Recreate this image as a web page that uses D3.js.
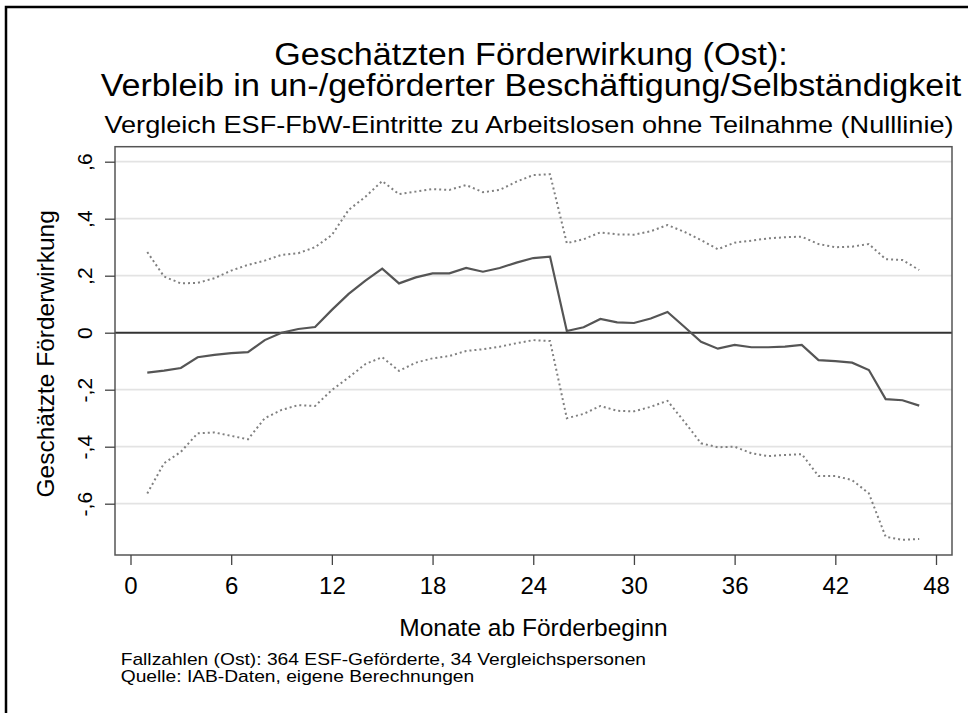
<!DOCTYPE html>
<html>
<head>
<meta charset="utf-8">
<script src="https://cdn.jsdelivr.net/npm/d3@7"></script>
<style>
  body { margin: 0; background: #fff; }
  text { font-family: "Liberation Sans", Arial, sans-serif; fill: #000; }
</style>
</head>
<body>
<div id="chart"></div>
<script>
const width = 968,
  height = 713;
const plot = { left: 115, right: 952, top: 146.7, bottom: 555 };

// Monate ab Förderbeginn
const months = [1, 2, 3, 4, 5, 6, 7, 8, 9, 10, 11, 12, 13, 14, 15, 16, 17, 18, 19, 20,
  21, 22, 23, 24, 25, 26, 27, 28, 29, 30, 31, 32, 33, 34, 35, 36, 37, 38, 39, 40,
  41, 42, 43, 44, 45, 46, 47];
// geschätzte Förderwirkung
const effect = [-0.140, -0.133, -0.124, -0.086, -0.078, -0.072, -0.068, -0.026, 0.000, 0.013,
  0.020, 0.080, 0.136, 0.183, 0.225, 0.173, 0.194, 0.208, 0.208, 0.227,
  0.214, 0.227, 0.246, 0.262, 0.267, 0.006, 0.019, 0.048, 0.036, 0.034,
  0.050, 0.073, 0.021, -0.032, -0.056, -0.043, -0.051, -0.051, -0.049, -0.043,
  -0.096, -0.100, -0.105, -0.131, -0.233, -0.237, -0.256];
// obere Grenze Konfidenzband
const upper = [0.283, 0.197, 0.173, 0.175, 0.191, 0.218, 0.238, 0.253, 0.273, 0.279,
  0.300, 0.343, 0.431, 0.477, 0.532, 0.486, 0.495, 0.504, 0.501, 0.518,
  0.493, 0.501, 0.530, 0.553, 0.556, 0.314, 0.328, 0.352, 0.345, 0.344,
  0.356, 0.378, 0.354, 0.325, 0.293, 0.316, 0.323, 0.331, 0.335, 0.337,
  0.311, 0.300, 0.302, 0.311, 0.258, 0.255, 0.220];
// untere Grenze Konfidenzband
const lower = [-0.564, -0.458, -0.418, -0.353, -0.350, -0.362, -0.374, -0.300, -0.271, -0.254,
  -0.257, -0.201, -0.157, -0.110, -0.086, -0.134, -0.105, -0.090, -0.082, -0.064,
  -0.058, -0.049, -0.037, -0.026, -0.029, -0.300, -0.285, -0.257, -0.274, -0.276,
  -0.260, -0.239, -0.312, -0.388, -0.402, -0.400, -0.423, -0.433, -0.429, -0.426,
  -0.503, -0.503, -0.517, -0.564, -0.716, -0.727, -0.724];

const xTicks = [0, 6, 12, 18, 24, 30, 36, 42, 48];
const yTicks = [-0.6, -0.4, -0.2, 0, 0.2, 0.4, 0.6];
const yTickLabels = ["-,6", "-,4", "-,2", "0", ",2", ",4", ",6"];

const titleLines = ["Geschätzten Förderwirkung (Ost):",
  "Verbleib in un-/geförderter Beschäftigung/Selbständigkeit"];
const subtitle = "Vergleich ESF-FbW-Eintritte zu Arbeitslosen ohne Teilnahme (Nulllinie)";
const notes = ["Fallzahlen (Ost): 364 ESF-Geförderte, 34 Vergleichspersonen",
  "Quelle: IAB-Daten, eigene Berechnungen"];

const x = d3.scaleLinear().domain([0, 48]).range([130.5, 936]);
const y = d3.scaleLinear().domain([-0.6, 0.6]).range([503.7, 161.7]);

const svg = d3
  .select("#chart")
  .append("svg")
  .attr("width", width)
  .attr("height", height);

// stretch text horizontally (the original text is wider than Arial)
function stretch(sel, factor) {
  sel.each(function () {
    const len = this.getComputedTextLength();
    d3.select(this)
      .attr("textLength", len * factor)
      .attr("lengthAdjust", "spacingAndGlyphs");
  });
}

// äußerer Rahmen
svg.append("rect")
  .attr("x", 6).attr("y", 7)
  .attr("width", 1200).attr("height", 1200)
  .attr("fill", "none")
  .attr("stroke", "#000")
  .attr("stroke-width", 2.5);

// Gitterlinien
svg.selectAll(".grid")
  .data(yTicks.filter((d) => d !== 0))
  .enter()
  .append("line")
  .attr("class", "grid")
  .attr("x1", plot.left).attr("x2", plot.right)
  .attr("y1", (d) => y(d)).attr("y2", (d) => y(d))
  .attr("stroke", "#e3e3e3")
  .attr("stroke-width", 1.8);

// Nulllinie
svg.append("line")
  .attr("x1", plot.left).attr("x2", plot.right)
  .attr("y1", y(0)).attr("y2", y(0))
  .attr("stroke", "#333")
  .attr("stroke-width", 2);

const series = months.map((m, i) => ({ m, e: effect[i], u: upper[i], l: lower[i] }));

const line = (key) => d3.line().x((d) => x(d.m)).y((d) => y(d[key]));

svg.append("path")
  .datum(series)
  .attr("d", line("u"))
  .attr("fill", "none")
  .attr("stroke", "#808080")
  .attr("stroke-width", 2)
  .attr("stroke-dasharray", "2,3");

svg.append("path")
  .datum(series)
  .attr("d", line("l"))
  .attr("fill", "none")
  .attr("stroke", "#808080")
  .attr("stroke-width", 2)
  .attr("stroke-dasharray", "2,3");

svg.append("path")
  .datum(series)
  .attr("d", line("e"))
  .attr("fill", "none")
  .attr("stroke", "#555")
  .attr("stroke-width", 2.2);

// Plotrahmen
svg.append("rect")
  .attr("x", plot.left).attr("y", plot.top)
  .attr("width", plot.right - plot.left)
  .attr("height", plot.bottom - plot.top)
  .attr("fill", "none")
  .attr("stroke", "#555")
  .attr("stroke-width", 1.5);

// x-Achse
const xAxis = svg.append("g")
  .attr("transform", `translate(0,${plot.bottom})`)
  .call(d3.axisBottom(x).tickValues(xTicks).tickSize(10).tickFormat(d3.format("d")));
xAxis.select(".domain").remove();
xAxis.selectAll(".tick line").attr("stroke", "#444").attr("stroke-width", 1.3);
xAxis.selectAll(".tick text")
  .attr("font-size", 24)
  .attr("dy", 0)
  .attr("y", 39)
  .attr("font-family", "Liberation Sans, Arial, sans-serif")
  .attr("fill", "#000");

// y-Achse
const yAxis = svg.append("g")
  .attr("transform", `translate(${plot.left},0)`)
  .call(d3.axisLeft(y).tickValues(yTicks).tickSize(10)
    .tickFormat((d, i) => yTickLabels[i]));
yAxis.select(".domain").remove();
yAxis.selectAll(".tick line").attr("stroke", "#444").attr("stroke-width", 1.3);
yAxis.selectAll(".tick text")
  .attr("font-size", 21)
  .attr("font-family", "Liberation Sans, Arial, sans-serif")
  .attr("fill", "#000")
  .attr("text-anchor", "middle")
  .attr("x", 0)
  .attr("dy", 0)
  .attr("y", -23)
  .attr("transform", "rotate(-90)");

// Achsentitel
svg.append("text")
  .attr("x", (plot.left + plot.right) / 2)
  .attr("y", 635.7)
  .attr("text-anchor", "middle")
  .attr("font-size", 24.5)
  .text("Monate ab Förderbeginn");

svg.append("text")
  .attr("transform", `translate(54,${(plot.top + plot.bottom) / 2 + 3}) rotate(-90)`)
  .attr("text-anchor", "middle")
  .attr("font-size", 24.5)
  .text("Geschätzte Förderwirkung");

// Titel
svg.selectAll(".title")
  .data(titleLines)
  .enter()
  .append("text")
  .attr("class", "title")
  .attr("x", 531)
  .attr("y", (d, i) => 65 + i * 31)
  .attr("text-anchor", "middle")
  .attr("font-size", 31)
  .text((d) => d)
  .call(stretch, 1.1);

svg.append("text")
  .attr("x", 529)
  .attr("y", 133.3)
  .attr("text-anchor", "middle")
  .attr("font-size", 24)
  .text(subtitle)
  .call(stretch, 1.13);

// Anmerkungen
svg.selectAll(".note")
  .data(notes)
  .enter()
  .append("text")
  .attr("class", "note")
  .attr("x", 120.7)
  .attr("y", (d, i) => 665.3 + i * 16.4)
  .attr("font-size", 17)
  .text((d) => d)
  .call(stretch, 1.13);
</script>
</body>
</html>
